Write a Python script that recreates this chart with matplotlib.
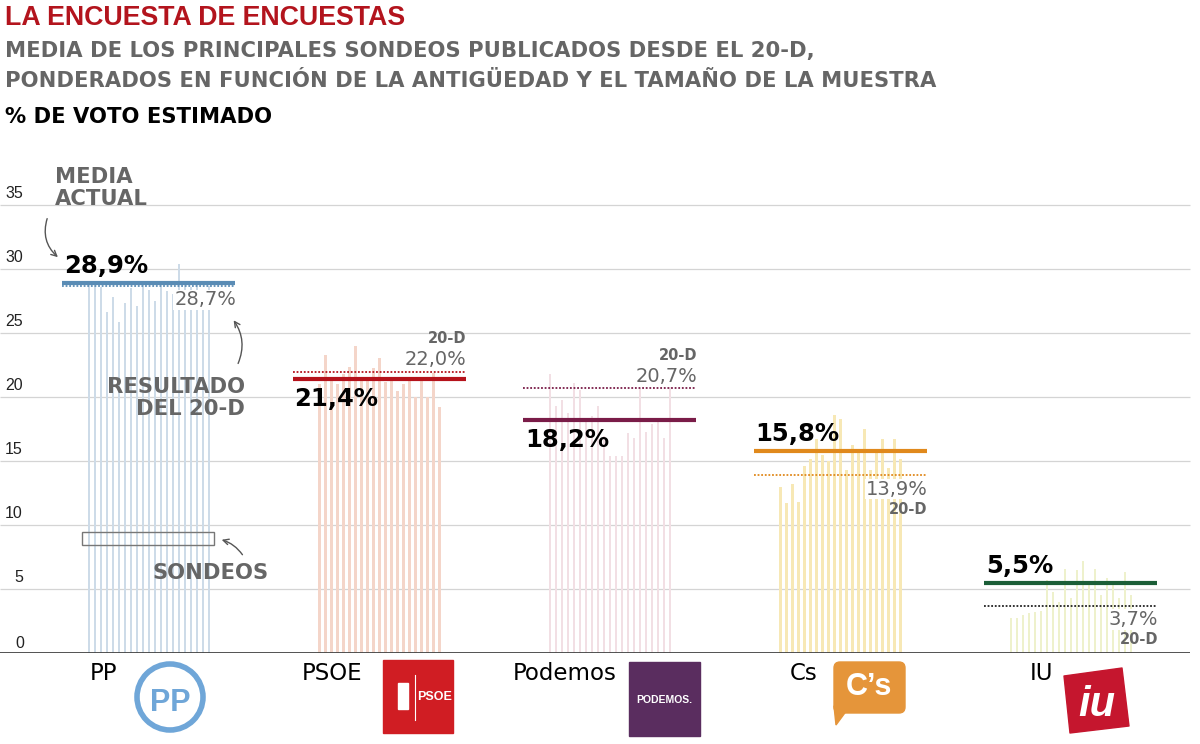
import numpy as np
import matplotlib.pyplot as plt
from matplotlib.patches import Rectangle, Circle, FancyBboxPatch, Polygon

# Data
parties = ["PP", "PSOE", "Podemos", "Cs", "IU"]
media = [28.9, 21.4, 18.2, 15.8, 5.5]
resultado_20d = [28.7, 22.0, 20.7, 13.9, 3.7]
media_txt = ["28,9%", "21,4%", "18,2%", "15,8%", "5,5%"]
res_txt = ["28,7%", "22,0%", "20,7%", "13,9%", "3,7%"]

sondeos_pp = [29.0, 28.9, 28.6, 26.7, 27.8, 25.9, 27.4, 28.5, 27.1, 29.0, 28.4,
              27.5, 28.8, 28.3, 28.1, 30.4, 28.9, 28.6, 28.9, 27.9, 28.7]
sondeos_psoe = [21.0, 23.3, 21.5, 21.0, 21.8, 22.4, 24.0, 21.5, 21.6, 22.3, 23.1,
                21.2, 21.4, 20.5, 21.0, 21.5, 20.0, 21.6, 20.0, 21.9, 19.2]
sondeos_podemos = [21.8, 19.3, 19.8, 18.8, 21.1, 20.6, 18.2, 18.5, 19.3, 17.0, 15.4,
                   15.4, 15.4, 17.2, 16.8, 20.7, 17.3, 17.9, 18.1, 16.8, 20.8]
sondeos_cs = [13.0, 11.7, 13.2, 11.8, 14.6, 15.2, 16.7, 15.5, 15.0, 18.6, 18.3,
              14.3, 16.3, 15.9, 17.5, 14.3, 15.9, 16.7, 14.5, 16.7, 15.2]
sondeos_iu = [2.7, 2.7, 3.0, 3.1, 3.2, 3.3, 5.7, 4.8, 4.0, 6.6, 4.3,
              6.5, 7.2, 5.3, 6.6, 4.5, 5.9, 5.4, 4.3, 6.3, 4.5]
sondeos = [sondeos_pp, sondeos_psoe, sondeos_podemos, sondeos_cs, sondeos_iu]
yticks = [0, 5, 10, 15, 20, 25, 30, 35]

# Styles
bar_colors = ["#cddbe8", "#f4d5c9", "#f2dfe4", "#f7e8b5", "#eef1cc"]
line_colors = ["#5a8cb5", "#b5121b", "#7a1c48", "#e0891c", "#1b5e37"]
dot_colors = ["#5a8cb5", "#b5121b", "#7a1c48", "#e0891c", "#222222"]
media_above = [True, False, False, True, True]
res_above = [False, True, True, False, False]
gray = "#666666"
plt.rcParams['font.family'] = ['Liberation Sans', 'DejaVu Sans']
wide = ['DejaVu Sans']

W, H = 1200, 744
fig = plt.figure(figsize=(W / 100, H / 100), dpi=100)

# main chart axes, x in pixel units
ax = fig.add_axes([0, (H - 653) / H, 1, 38 * 12.79 / H])
ax.set_xlim(0, W)
ax.set_ylim(0, 38)
ax.axis("off")

for t in yticks[1:]:
    ax.hlines(t, 0, 1190, color="#d4d4d4", lw=0.9, zorder=0)
    ax.annotate(str(t), (23, t), xytext=(0, 12), textcoords="offset pixels",
                ha="right", va="center", fontsize=11.5, color="#222")
ax.annotate("0", (24, 0), xytext=(0, 9), textcoords="offset pixels",
            ha="right", va="center", fontsize=11.5, color="#222")
ax.hlines(0, 0, 1190, color="#444", lw=1.3, zorder=5)

for i, p in enumerate(parties):
    x0 = 62 + 230.5 * i
    x1 = x0 + 173
    xs = x0 + 27 + 6 * np.arange(len(sondeos[i]))
    ax.bar(xs, sondeos[i], width=2.6, color=bar_colors[i], zorder=1)
    ax.hlines(resultado_20d[i], x0, x1, color=dot_colors[i], lw=1.3,
              linestyles=(0, (1, 1)), zorder=2)
    ax.hlines(media[i], x0, x1, color=line_colors[i], lw=3, zorder=3)
    dy = 17 if media_above[i] else -20
    ax.annotate(media_txt[i], (x0, media[i]), xytext=(2, dy), textcoords="offset pixels",
                ha="left", va="center", fontsize=17.5, fontweight="bold", color="black",
                family=wide, zorder=6)
    if res_above[i]:
        d1, d2 = 12, 33
    else:
        d1, d2 = -14, -34
    ax.annotate(res_txt[i], (x1, resultado_20d[i]), xytext=(1, d1), textcoords="offset pixels",
                ha="right", va="center", fontsize=14, color=gray, family=wide, zorder=6,
                bbox=dict(facecolor="white", edgecolor="none", pad=0.5))
    if i > 0:
        ax.annotate("20-D", (x1, resultado_20d[i]), xytext=(1, d2), textcoords="offset pixels",
                    ha="right", va="center", fontsize=10.5, fontweight="bold", color=gray,
                    family=wide, zorder=6)

# overlay in pixel coordinates for titles, notes and logos
ov = fig.add_axes([0, 0, 1, 1], facecolor="none")
ov.set_xlim(0, W)
ov.set_ylim(H, 0)
ov.axis("off")

ov.text(5, 18, "LA ENCUESTA DE ENCUESTAS", fontsize=19.3, fontweight="bold",
        color="#b3141d", va="center")
ov.text(5, 51, "MEDIA DE LOS PRINCIPALES SONDEOS PUBLICADOS DESDE EL 20-D,",
        fontsize=15.2, fontweight="bold", color=gray, va="center", family=wide)
ov.text(5, 81, "PONDERADOS EN FUNCIÓN DE LA ANTIGÜEDAD Y EL TAMAÑO DE LA MUESTRA",
        fontsize=15.2, fontweight="bold", color=gray, va="center", family=wide)
ov.text(5, 117, "% DE VOTO ESTIMADO", fontsize=15.2, fontweight="bold",
        color="black", va="center", family=wide)

# annotations
ov.text(55, 188, "MEDIA\nACTUAL", fontsize=15.2, fontweight="bold", color=gray,
        va="center", ha="left", linespacing=1.15, family=wide)
ov.annotate("", xy=(60, 259), xytext=(48, 216),
            arrowprops=dict(arrowstyle="->", color="#555", lw=1,
                            connectionstyle="arc3,rad=0.35"))
ov.text(245, 398, "RESULTADO\nDEL 20-D", fontsize=15.2, fontweight="bold", color=gray,
        va="center", ha="right", linespacing=1.15, family=wide)
ov.annotate("", xy=(232, 318), xytext=(237, 366),
            arrowprops=dict(arrowstyle="->", color="#555", lw=1,
                            connectionstyle="arc3,rad=0.3"))
ov.add_patch(Rectangle((82, 532), 132, 13, fill=False, edgecolor="#777", lw=1, zorder=4))
ov.text(152, 573, "SONDEOS", fontsize=15.2, fontweight="bold", color=gray,
        va="center", ha="left", family=wide)
ov.annotate("", xy=(219, 539), xytext=(244, 557),
            arrowprops=dict(arrowstyle="->", color="#555", lw=1,
                            connectionstyle="arc3,rad=0.2"))

# category names
name_x = [90, 302, 513, 790, 1030]
for nx, p in zip(name_x, parties):
    ov.text(nx, 674, p, fontsize=16.5, color="black", va="center", ha="left", family=wide)

# logos
ov.add_patch(Circle((170, 697), 33, fill=False, edgecolor="#6fa6d8", lw=4))
ov.text(170, 703, "PP", fontsize=22, fontweight="bold", color="#6fa6d8",
        ha="center", va="center")
ov.add_patch(Rectangle((383, 660), 70, 73, color="#d01d23"))
ov.plot([415, 415], [675, 720], color="white", lw=0.8)
ov.text(435, 697, "PSOE", fontsize=9, fontweight="bold", color="white",
        ha="center", va="center")
ov.add_patch(Rectangle((398, 683), 10, 26, color="white"))
ov.add_patch(Rectangle((629, 662), 71, 74, color="#5a2d5f"))
ov.text(664, 700, "PODEMOS.", fontsize=7.5, fontweight="bold", color="white",
        ha="center", va="center")
ov.add_patch(FancyBboxPatch((836, 664), 67, 47, boxstyle="round,pad=2,rounding_size=6",
                            color="#e5953a"))
ov.add_patch(Polygon([(834, 706), (850, 706), (836, 725)], color="#e5953a"))
ov.text(869, 687, "C’s", fontsize=22, fontweight="bold", color="white",
        ha="center", va="center")
ov.add_patch(Polygon([(1064, 676), (1122, 668), (1129, 726), (1070, 733)],
                     color="#c5162e", joinstyle="round"))
ov.text(1097, 705, "iu", fontsize=30, fontweight="bold", style="italic", color="white",
        ha="center", va="center")

fig.savefig("out.png", dpi=100)
